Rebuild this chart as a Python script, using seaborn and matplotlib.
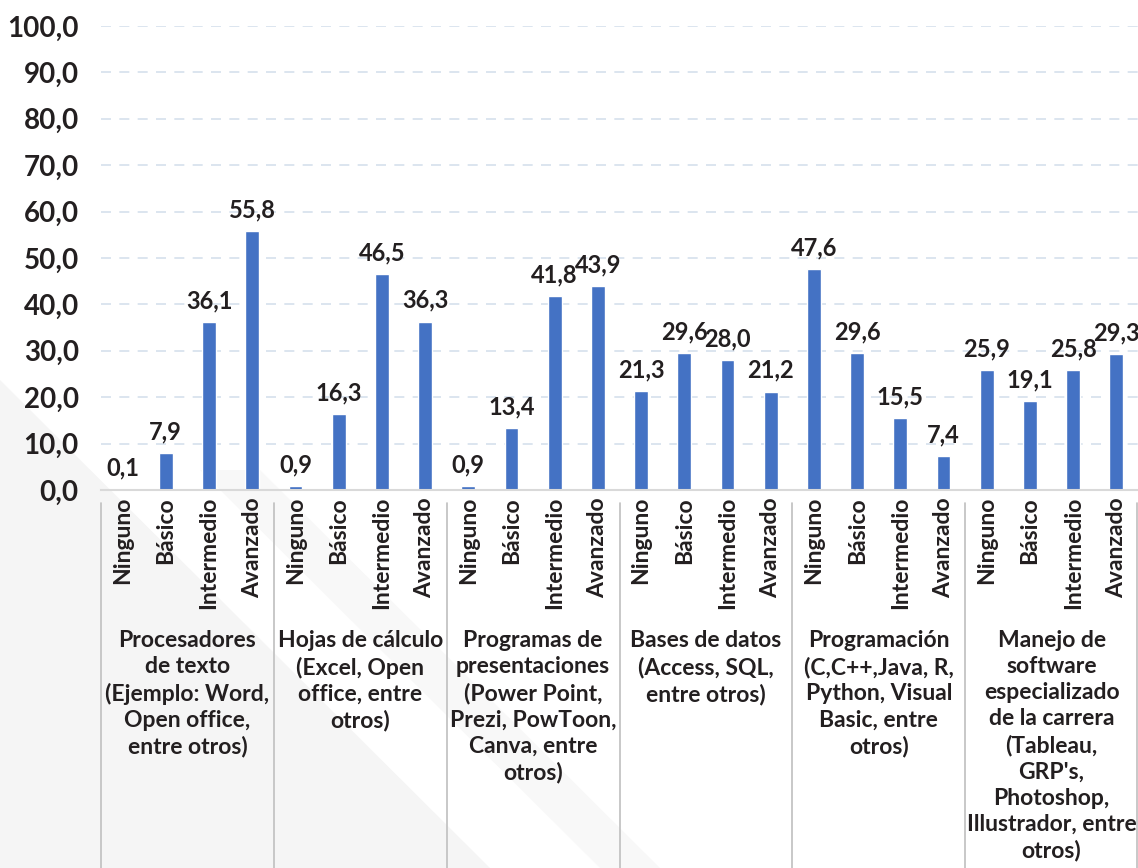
import numpy as np
import pandas as pd
import seaborn as sns
import matplotlib
matplotlib.use("Agg")
import matplotlib.pyplot as plt
from matplotlib.patches import Polygon
from matplotlib.lines import Line2D

# ---- data ----
groups = [
    "Procesadores\nde texto\n(Ejemplo: Word,\nOpen office,\nentre otros)",
    "Hojas de cálculo\n(Excel, Open\noffice, entre\notros)",
    "Programas de\npresentaciones\n(Power Point,\nPrezi, PowToon,\nCanva, entre\notros)",
    "Bases de datos\n(Access, SQL,\nentre otros)",
    "Programación\n(C,C++,Java, R,\nPython, Visual\nBasic, entre\notros)",
    "Manejo de\nsoftware\nespecializado\nde la carrera\n(Tableau,\nGRP's,\nPhotoshop,\nIllustrador, entre\notros)",
]
levels = ["Ninguno", "Básico", "Intermedio", "Avanzado"]
procesadores = [0.1, 7.9, 36.1, 55.8]
hojas = [0.9, 16.3, 46.5, 36.3]
presentaciones = [0.9, 13.4, 41.8, 43.9]
bases = [21.3, 29.6, 28.0, 21.2]
programacion = [47.6, 29.6, 15.5, 7.4]
manejo = [25.9, 19.1, 25.8, 29.3]
yticks = [0, 10, 20, 30, 40, 50, 60, 70, 80, 90, 100]

series = [procesadores, hojas, presentaciones, bases, programacion, manejo]
rows = []
for gi, (g, vals) in enumerate(zip(groups, series)):
    for lvl, v in zip(levels, vals):
        rows.append({"pos": f"{gi}|{lvl}", "grupo": g, "nivel": lvl, "valor": v})
df = pd.DataFrame(rows)

# ---- style ----
sns.set_theme(style="white")
plt.rcParams["font.family"] = ["Lato", "DejaVu Sans"]
TXT = "#231f20"
BLUE = "#4472C4"

W, H = 1138, 868
fig = plt.figure(figsize=(W / 100, H / 100), dpi=100)
fig.patch.set_facecolor("white")

def fx(x):
    return x / W

def fy(y):
    return 1 - y / H

# faint diagonal background shapes
bg1 = Polygon([(fx(0), fy(380)), (fx(490), fy(868)), (fx(0), fy(868))],
              closed=True, transform=fig.transFigure, facecolor="#f5f5f5",
              edgecolor="none", zorder=0)
bg2 = Polygon([(fx(200), fy(470)), (fx(260), fy(470)), (fx(660), fy(868)), (fx(600), fy(868))],
              closed=True, transform=fig.transFigure, facecolor="#f8f8f8",
              edgecolor="none", zorder=0)
fig.add_artist(bg1)
fig.add_artist(bg2)

left, right = 101, 1138
top, bottom = 26, 490
ax = fig.add_axes([fx(left), fy(bottom), (right - left) / W, (bottom - top) / H])
ax.set_facecolor("none")

sns.barplot(data=df, x="pos", y="valor", color=BLUE, saturation=1,
            width=0.32, ax=ax, zorder=3)

ax.set_ylim(0, 100)
ax.set_xlim(-0.5, len(df) - 0.5)
ax.set_yticks(yticks)
ax.set_yticklabels([f"{t:.1f}".replace(".", ",") for t in yticks],
                   fontsize=20, fontweight="bold", color=TXT)
ax.set_xticks(range(len(df)))
ax.set_xticklabels(df["nivel"], rotation=90, fontsize=16.5, fontweight="bold", color=TXT)
ax.tick_params(axis="x", length=0, pad=5)
ax.tick_params(axis="y", length=0, pad=16)
ax.set_xlabel("")
ax.set_ylabel("")

for s in ["top", "right", "left"]:
    ax.spines[s].set_visible(False)
ax.spines["bottom"].set_color("#d9d9d9")
ax.spines["bottom"].set_linewidth(1.5)
ax.spines["bottom"].set_zorder(4)

for t in yticks[1:]:
    ax.axhline(t, color="#d5e0ec", lw=1.2, linestyle=(0, (6, 5)), zorder=1)

for cont in ax.containers:
    ax.bar_label(cont, labels=[f"{v:.1f}".replace(".", ",") for v in df["valor"]],
                 padding=7, fontsize=17, fontweight="bold", color=TXT)

# group separators and labels
n = len(levels)
for gi in range(len(groups) + 1):
    xb = gi * n - 0.5
    xpix = left + (right - left) * (xb + 0.5) / len(df)
    if xpix >= W:
        xpix = W - 1
    fig.add_artist(Line2D([fx(xpix), fx(xpix)], [fy(503), fy(868)],
                          transform=fig.transFigure, color="#bfbfbf", lw=1.2))

for gi, g in enumerate(groups):
    xc = gi * n + (n - 1) / 2
    ax.text(xc, -(630 - bottom) / (bottom - top), g, transform=ax.get_xaxis_transform(),
            ha="center", va="top", fontsize=16.5, fontweight="bold", color=TXT,
            linespacing=1.3, clip_on=False)

fig.savefig("out.png", dpi=100)
